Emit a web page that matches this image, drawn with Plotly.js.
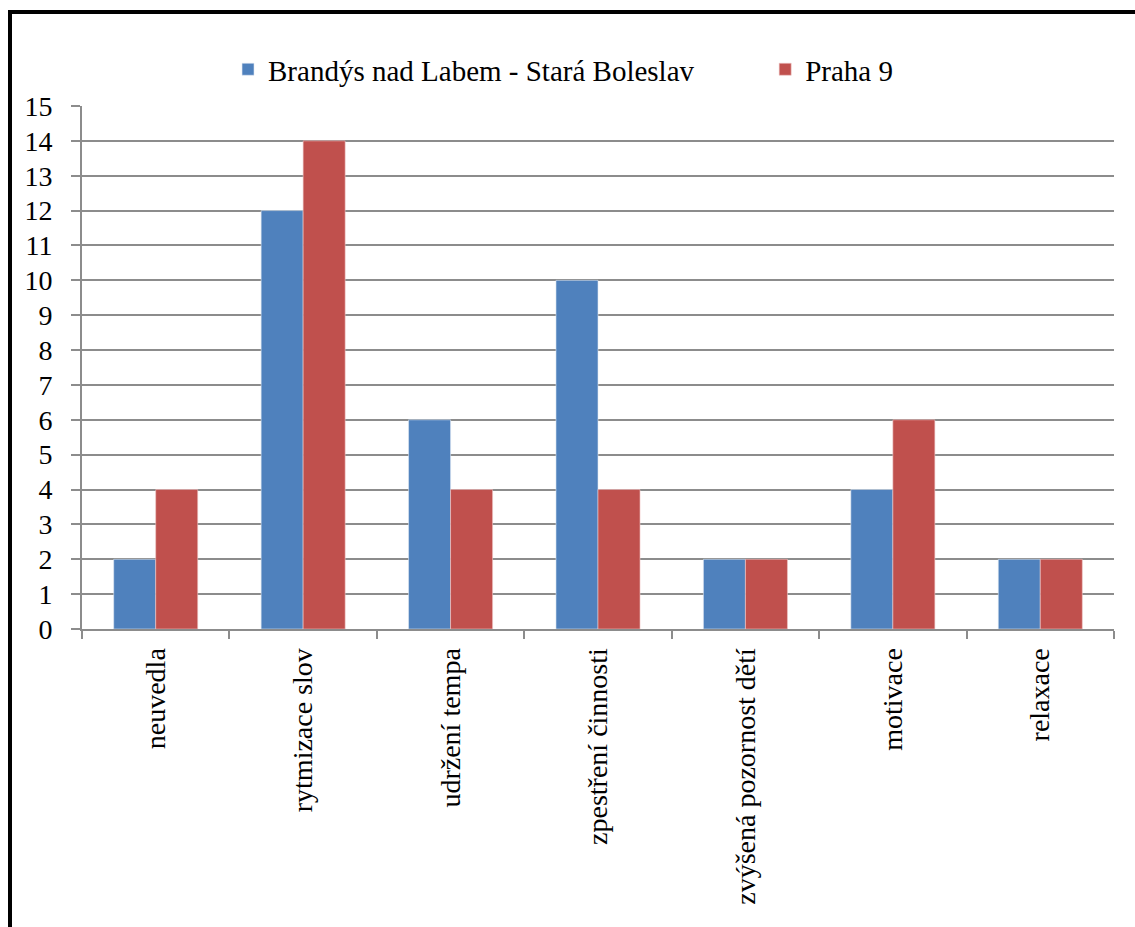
<!DOCTYPE html>
<html>
<head>
<meta charset="utf-8">
<script src="https://cdn.plot.ly/plotly-3.0.1.min.js"></script>
</head>
<body style="margin:0; overflow:hidden; background:#fff">
<div id="chart"></div>
<div style="position:absolute; left:8px; top:10px; width:1200px; height:1000px; border-left:4px solid #000; border-top:4px solid #000; pointer-events:none"></div>
<script>
const categories = ["neuvedla", "rytmizace slov", "udržení tempa", "zpestření činnosti",
                    "zvýšená pozornost dětí", "motivace", "relaxace"];
const seriesNames = ["Brandýs nad Labem - Stará Boleslav", "Praha 9"];
const brandysValues = [2, 12, 6, 10, 2, 4, 2];
const prahaValues = [4, 14, 4, 4, 2, 6, 2];
const yTickValues = [0,1,2,3,4,5,6,7,8,9,10,11,12,13,14,15];

const gridColor = '#8c8c8c';

const traces = [
  { type: 'bar', name: seriesNames[0], x: categories, y: brandysValues, legend: 'legend',
    marker: { color: '#4F81BD', line: { color: '#dfe7f2', width: 0.6 } } },
  { type: 'bar', name: seriesNames[1], x: categories, y: prahaValues, legend: 'legend2',
    marker: { color: '#C0504D', line: { color: '#f0c8c7', width: 0.6 } } }
];

const layout = {
  width: 1135, height: 927,
  margin: { l: 82, r: 21, t: 106, b: 298 },
  paper_bgcolor: '#fff', plot_bgcolor: '#fff',
  font: { family: 'Liberation Serif', size: 28, color: '#000' },
  barmode: 'group', bargap: 0.43, bargroupgap: 0,
  showlegend: true,
  legend: {
    orientation: 'h', x: 0.1415, xanchor: 'left', y: 1.07, yanchor: 'middle',
    font: { family: 'Liberation Serif', size: 29, color: '#000' }
  },
  legend2: {
    orientation: 'h', x: 0.662, xanchor: 'left', y: 1.07, yanchor: 'middle',
    font: { family: 'Liberation Serif', size: 29, color: '#000' }
  },
  xaxis: {
    type: 'category', tickangle: -90, tickson: 'boundaries',
    ticks: 'outside', ticklen: 8, tickwidth: 2, tickcolor: gridColor,
    ticklabelstandoff: 6,
    showline: true, linecolor: gridColor, linewidth: 2,
    showgrid: false, tickfont: { family: 'Liberation Serif', size: 28, color: '#000' }
  },
  yaxis: {
    range: [0, 15], tickvals: yTickValues, ticktext: yTickValues.map(String),
    ticks: 'outside', ticklen: 9, tickwidth: 2, tickcolor: gridColor,
    ticklabelstandoff: 13,
    showline: true, linecolor: gridColor, linewidth: 2,
    showgrid: true, gridcolor: gridColor, gridwidth: 2,
    zeroline: false, tickfont: { family: 'Liberation Serif', size: 28, color: '#000' }
  }
};

Plotly.newPlot('chart', traces, layout, { staticPlot: true });
</script>
</body>
</html>
